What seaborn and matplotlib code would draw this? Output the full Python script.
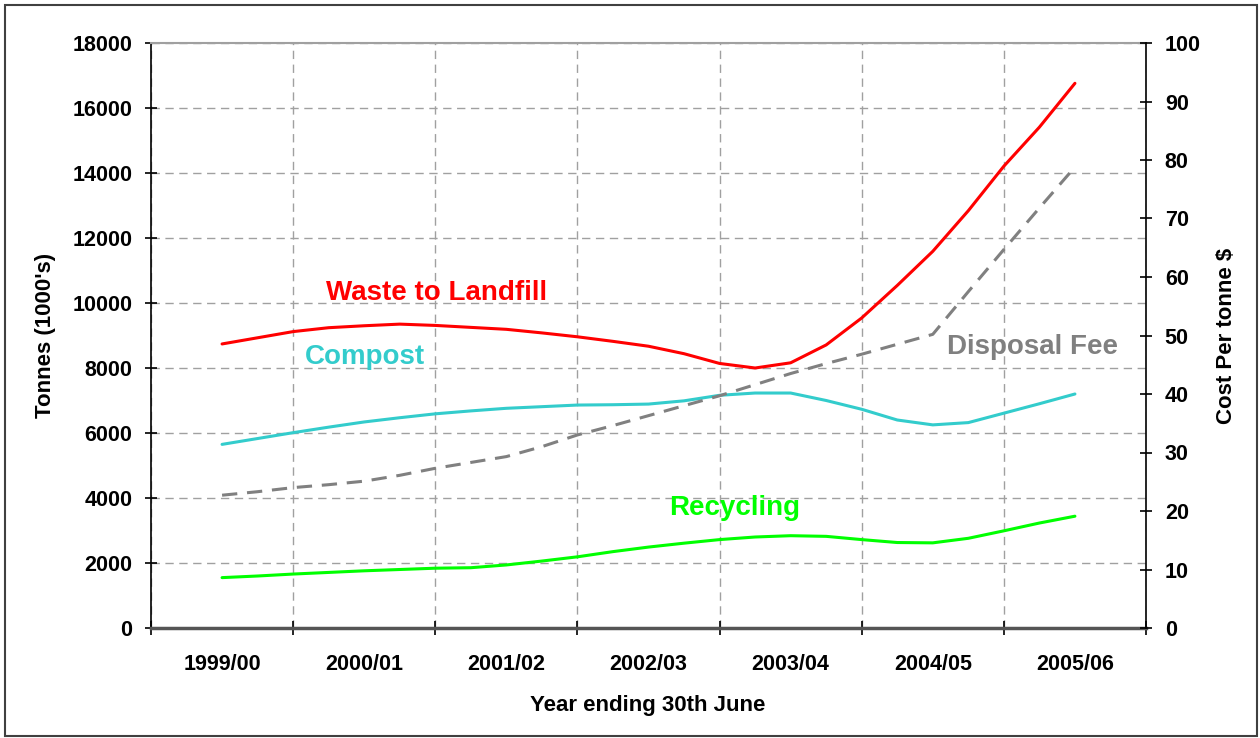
import numpy as np
import pandas as pd
import matplotlib.pyplot as plt
from matplotlib.patches import Rectangle
import seaborn as sns

sns.set_style("white")
plt.rcParams['font.family'] = ['Liberation Sans', 'DejaVu Sans']
plt.rcParams['font.weight'] = 'bold'
plt.rcParams['text.color'] = 'black'
plt.rcParams['axes.labelcolor'] = 'black'
plt.rcParams['xtick.color'] = 'black'
plt.rcParams['ytick.color'] = 'black'

years = ["1999/00", "2000/01", "2001/02", "2002/03", "2003/04", "2004/05", "2005/06"]

# quarterly readings, from the middle of 1999/00 to the middle of 2005/06
quarter = np.arange(25) / 4

landfill = [8740, 8930, 9120, 9240, 9300, 9350, 9310, 9250, 9190, 9080,
            8960, 8820, 8670, 8440, 8140, 8000, 8160, 8710, 9540, 10540,
            11590, 12840, 14210, 15410, 16760]
compost = [5650, 5830, 6010, 6180, 6340, 6470, 6590, 6680, 6760, 6810,
           6860, 6870, 6890, 6990, 7160, 7230, 7230, 7000, 6730, 6400,
           6250, 6320, 6610, 6900, 7200]
recycling = [1550, 1600, 1660, 1710, 1760, 1800, 1840, 1855, 1940, 2060,
             2190, 2350, 2490, 2610, 2720, 2800, 2840, 2820, 2720, 2630,
             2620, 2760, 2990, 3230, 3440]
# $ per tonne, right axis
disposal_fee = [22.7, 23.3, 24.0, 24.5, 25.1, 26.1, 27.3, 28.3, 29.3, 31.0,
                33.0, 34.6, 36.3, 38.0, 39.7, 41.6, 43.5, 45.2, 46.8, 48.5,
                50.2, 57.5, 64.7, 71.8, 78.8]

df = pd.DataFrame({"quarter": quarter, "landfill": landfill, "compost": compost,
                   "recycling": recycling, "fee": disposal_fee})

fig = plt.figure(figsize=(12.6, 7.38), dpi=100)
ax = fig.add_axes([151/1260, 1 - 628/738, 995/1260, 585/738])

sns.lineplot(data=df, x="quarter", y="landfill", ax=ax, color="#FF0000", lw=2.2)
sns.lineplot(data=df, x="quarter", y="compost", ax=ax, color="#33CCCC", lw=2.2)
sns.lineplot(data=df, x="quarter", y="recycling", ax=ax, color="#00FF00", lw=2.2)

ax.set_xlim(-0.5, 6.5)
ax.set_ylim(0, 18000)
ax.set_yticks(range(0, 18001, 2000))
ax.set_xticks(np.arange(-0.5, 7, 1))
ax.set_xticklabels([])
ax.set_xticks(range(7), minor=True)
ax.set_xticklabels(years, minor=True)
ax.tick_params(axis="x", which="major", direction="inout", length=10, width=1.2, color="black")
ax.tick_params(axis="x", which="minor", length=0, pad=19, labelsize=15.5)
ax.tick_params(axis="y", direction="inout", length=9, width=1.2, color="black", pad=9, labelsize=15.5)
ax.tick_params(left=True, bottom=True)

ax.grid(True, which="major", color="#A0A0A0", lw=1, linestyle=(0, (6, 4)))
ax.set_axisbelow(True)

ax.spines["left"].set_color("black")
ax.spines["left"].set_linewidth(1.2)
ax.spines["bottom"].set_color("#555555")
ax.spines["bottom"].set_linewidth(2.5)
ax.spines["top"].set_color("#A0A0A0")
ax.spines["top"].set_linewidth(1.5)
ax.spines["right"].set_visible(False)

ax.set_xlabel("Year ending 30th June", fontsize=16, fontweight="bold", va="center")
ax.xaxis.set_label_coords(0.4995, -0.1333)
ax.set_ylabel("Tonnes (1000's)", fontsize=16, fontweight="bold", va="center")
ax.yaxis.set_label_coords(-0.1065, 0.5)

ax2 = ax.twinx()
sns.lineplot(data=df, x="quarter", y="fee", ax=ax2, color="#808080", lw=2.2)
ax2.lines[-1].set_dashes([5, 3.2])
ax2.set_ylim(0, 100)
ax2.set_yticks(range(0, 101, 10))
ax2.tick_params(axis="y", right=True, direction="inout", length=9, width=1.2,
                color="black", pad=9, labelsize=15.5)
for s in ["left", "top", "bottom"]:
    ax2.spines[s].set_visible(False)
ax2.spines["right"].set_color("black")
ax2.spines["right"].set_linewidth(1.2)
ax2.set_ylabel("Cost Per tonne $", fontsize=16, fontweight="bold", va="center")
ax2.yaxis.set_label_coords(1.0814, 0.5)

# series names written on the plot
ax.text(1.512, 10308, "Waste to Landfill", color="#FF0000", fontsize=20,
        fontweight="bold", ha="center", va="center")
ax.text(1.006, 8338, "Compost", color="#33CCCC", fontsize=20,
        fontweight="bold", ha="center", va="center")
ax.text(5.705, 8646, "Disposal Fee", color="#808080", fontsize=20,
        fontweight="bold", ha="center", va="center")
ax.text(3.609, 3692, "Recycling", color="#00FF00", fontsize=20,
        fontweight="bold", ha="center", va="center")

fig.patches.append(Rectangle((5/1260, 2/738), 1252/1260, 731/738, transform=fig.transFigure,
                             fill=False, ec="#404040", lw=1.5))

fig.savefig("out.png", dpi=100)
